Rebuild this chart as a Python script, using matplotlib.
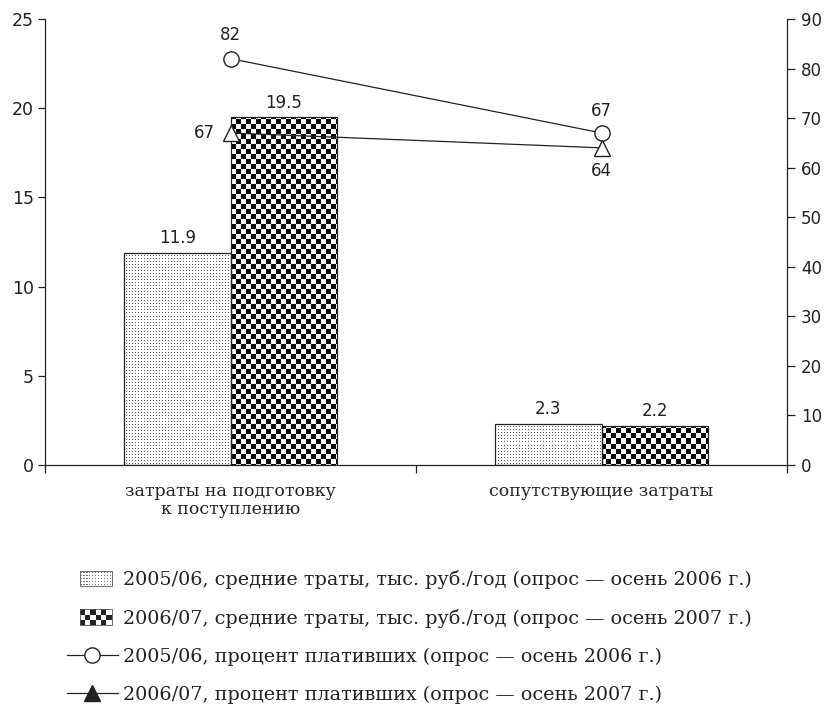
import numpy as np
import matplotlib.pyplot as plt
from matplotlib.patches import Rectangle
from matplotlib.lines import Line2D
from matplotlib.legend_handler import HandlerBase

# данные
categories = ['затраты на подготовку\nк поступлению', 'сопутствующие затраты']
spend_0506 = [11.9, 2.3]
spend_0607 = [19.5, 2.2]
paid_0506 = [82, 67]
paid_0607 = [67, 64]
legend_labels = [
    '2005/06, средние траты, тыс. руб./год (опрос — осень 2006 г.)',
    '2006/07, средние траты, тыс. руб./год (опрос — осень 2007 г.)',
    '2005/06, процент плативших (опрос — осень 2006 г.)',
    '2006/07, процент плативших (опрос — осень 2007 г.)',
]

ink = '#222222'
serif = 'DejaVu Serif'
sans = 'DejaVu Sans'

W, H = 826, 708
fig = plt.figure(figsize=(W / 100, H / 100), dpi=100)
axl, axb, axw, axh = 45, 465, 742, 446
ax = fig.add_axes([axl / W, 1 - axb / H, axw / W, axh / H])

# узоры заливки (в пикселях осей)
yy, xx = np.mgrid[0:axh, 0:axw]
checker = ((yy // 5 + xx // 5) % 2).astype(float)
dots = np.ones((axh, axw))
dots[(yy % 3 == 0) & (xx % 3 == 0)] = 0.35

x = np.arange(len(categories))
w = 0.287
b1 = ax.bar(x - w / 2, spend_0506, width=w, facecolor='none', edgecolor=ink, linewidth=0.9, zorder=2)
b2 = ax.bar(x + w / 2, spend_0607, width=w, facecolor='none', edgecolor=ink, linewidth=0.9, zorder=2)
for cont, pat in ((b1, dots), (b2, checker)):
    for p in cont:
        im = ax.imshow(pat, extent=(-0.5, 1.5, 0, 25), aspect='auto', cmap='gray',
                       vmin=0, vmax=1, interpolation='nearest', zorder=1)
        im.set_clip_path(p)

ax.bar_label(b1, fmt='%.1f', padding=4, fontsize=12, family=sans, color=ink)
ax.bar_label(b2, fmt='%.1f', padding=4, fontsize=12, family=sans, color=ink)

ax.set_xlim(-0.5, 1.5)
ax.set_ylim(0, 25)
ax.set_yticks(np.arange(0, 26, 5))
ax.set_xticks([-0.5, 0.5, 1.5])
ax.set_xticklabels([])
ax.set_xticks(x, minor=True)
ax.set_xticklabels(categories, minor=True, family=serif, fontsize=12.5, color=ink, linespacing=1.1)
ax.tick_params(axis='x', which='minor', length=0, pad=13)
ax.tick_params(axis='x', which='major', length=6, width=0.9, color=ink)
ax.tick_params(axis='y', length=5, width=0.9, color=ink, labelsize=12.5, labelcolor=ink, pad=3)
for lab in ax.get_yticklabels():
    lab.set_family(sans)
for s in ('top', 'right'):
    ax.spines[s].set_visible(False)
for s in ('left', 'bottom'):
    ax.spines[s].set_color(ink)
    ax.spines[s].set_linewidth(0.9)

ax2 = ax.twinx()
ax2.set_ylim(0, 90)
ax2.set_yticks(np.arange(0, 91, 10))
ax2.tick_params(axis='y', length=6, width=0.9, color=ink, labelsize=12, labelcolor=ink, pad=4)
for lab in ax2.get_yticklabels():
    lab.set_family(sans)
for s in ('top', 'left', 'bottom'):
    ax2.spines[s].set_visible(False)
ax2.spines['right'].set_color(ink)
ax2.spines['right'].set_linewidth(0.9)

ax2.plot(x, paid_0506, color=ink, lw=0.9, marker='o', ms=11, mfc='white', mec=ink, mew=1.0)
ax2.plot(x, paid_0607, color=ink, lw=0.9, marker='^', ms=11, mfc='white', mec=ink, mew=1.0)

def note(xv, yv, dx, dy):
    ax2.annotate(str(yv), (xv, yv), xytext=(dx, dy), textcoords='offset points',
                 ha='center', va='center', fontsize=12, family=sans, color=ink)

note(x[0], paid_0506[0], 0, 17)
note(x[0], paid_0607[0], -19, 0)
note(x[1], paid_0506[1], 0, 16)
note(x[1], paid_0607[1], 0, -17)


class PatternHandler(HandlerBase):
    def __init__(self, kind):
        super().__init__()
        self.kind = kind

    def create_artists(self, legend, orig_handle, xdescent, ydescent, width, height, fontsize, trans):
        x0, y0 = -xdescent + width * 0.25, -ydescent
        pw, ph = width * 0.63, height
        arts = [Rectangle((x0, y0), pw, ph, facecolor='white', edgecolor='none', transform=trans)]
        if self.kind == 'checker':
            nx, ny = 6, 3
            cw, ch = pw / nx, ph / ny
            for i in range(nx):
                for j in range(ny):
                    if (i + j) % 2 == 0:
                        arts.append(Rectangle((x0 + i * cw, y0 + j * ch), cw, ch,
                                              facecolor=ink, edgecolor='none', transform=trans))
        else:
            nx, ny = 11, 5
            cw, ch = pw / nx, ph / ny
            for i in range(nx):
                for j in range(ny):
                    arts.append(Rectangle((x0 + i * cw + cw * 0.3, y0 + j * ch + ch * 0.3), cw * 0.4, ch * 0.4,
                                          facecolor='#777777', edgecolor='none', transform=trans))
        arts.append(Rectangle((x0, y0), pw, ph, facecolor='none', edgecolor='#555555', lw=0.6, transform=trans))
        return arts


h_dot = Rectangle((0, 0), 1, 1)
h_chk = Rectangle((0, 0), 1, 1)
h_l1 = Line2D([], [], color=ink, lw=0.9, marker='o', ms=11, mfc='white', mec=ink)
h_l2 = Line2D([], [], color=ink, lw=0.9, marker='^', ms=12, mfc=ink, mec=ink)

fig.legend([h_dot, h_chk, h_l1, h_l2], legend_labels,
           handler_map={h_dot: PatternHandler('dots'), h_chk: PatternHandler('checker')},
           loc='upper left', bbox_to_anchor=(67 / W, 1 - 570 / H), frameon=False,
           prop={'family': serif, 'size': 13.8}, labelcolor=ink,
           handlelength=2.65, handleheight=0.85, handletextpad=0.25,
           labelspacing=1.03, borderpad=0, borderaxespad=0)

fig.savefig('out.png', dpi=100)
